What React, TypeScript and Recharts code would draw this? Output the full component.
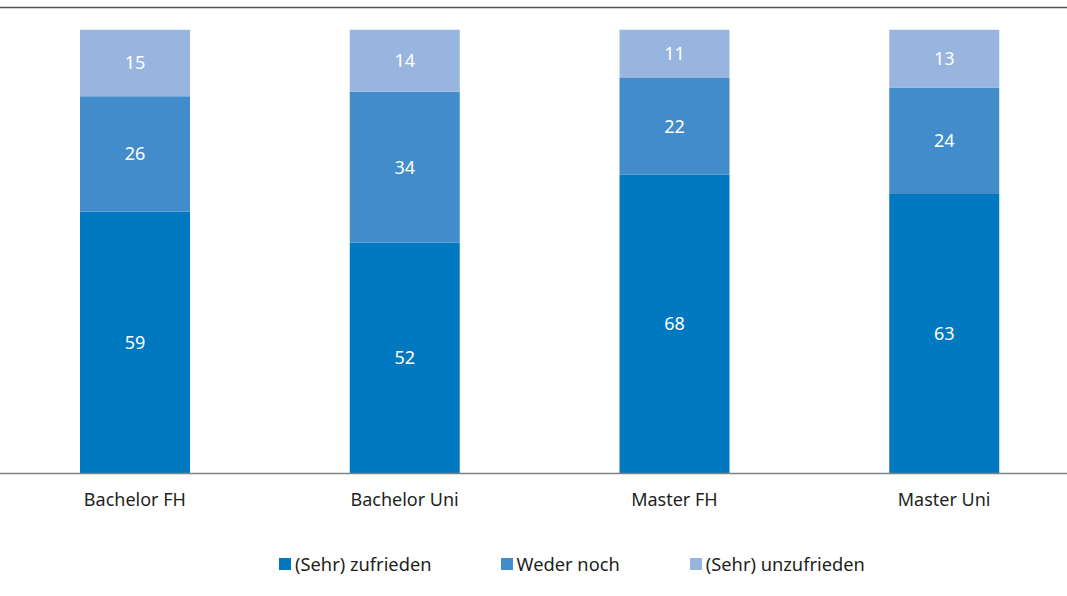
import React from "react";
import { BarChart, Bar, XAxis, YAxis, LabelList, ReferenceLine, Legend } from "recharts";

const categories = ["Bachelor FH", "Bachelor Uni", "Master FH", "Master Uni"];
const zufrieden = [59, 52, 68, 63];
const wederNoch = [26, 34, 22, 24];
const unzufrieden = [15, 14, 11, 13];
const seriesNames = ["(Sehr) zufrieden", "Weder noch", "(Sehr) unzufrieden"];
const colors = ["#0079C1", "#438CCB", "#97B5DF"];

const data = categories.map((c, i) => {
  const total = zufrieden[i] + wederNoch[i] + unzufrieden[i];
  return {
    name: c,
    a: (zufrieden[i] / total) * 100,
    b: (wederNoch[i] / total) * 100,
    c: (unzufrieden[i] / total) * 100,
    aRaw: zufrieden[i],
    bRaw: wederNoch[i],
    cRaw: unzufrieden[i],
  };
});

const FONT = "'Noto Sans', 'Open Sans', sans-serif";

const LegendContent = () => (
  <div style={{ display: "flex", justifyContent: "flex-start", fontFamily: FONT, fontSize: 18.3, color: "#231F20" }}>
    {seriesNames.map((n, i) => (
      <div key={n} style={{ display: "flex", alignItems: "center", marginLeft: i === 0 ? 279 : i === 1 ? 69 : 70 }}>
        <div style={{ width: 12, height: 12, background: colors[i], marginRight: 4 }} />
        <span>{n}</span>
      </div>
    ))}
  </div>
);

export default function App() {
  return (
    <div>
      <style>{`body{margin:0;overflow:hidden;background:#fff}`}</style>
      <BarChart
        width={1080}
        height={596}
        data={data}
        margin={{ top: 7.5, right: 1, bottom: 67.5, left: 0 }}
        barSize={110}
      >
        <XAxis
          dataKey="name"
          axisLine={{ stroke: "#7F8280", strokeWidth: 1.5 }}
          tickLine={false}
          tickMargin={14}
          tick={{ fill: "#231F20", fontSize: 18, fontFamily: FONT }}
        />
        <YAxis hide domain={[0, 105]} type="number" allowDataOverflow />
        <ReferenceLine y={105} stroke="#555555" strokeWidth={1.5} />
        <Legend
          verticalAlign="bottom"
          content={<LegendContent />}
          wrapperStyle={{ top: 551, left: 0, width: 1080 }}
        />
        <Bar dataKey="a" stackId="s" name={seriesNames[0]} fill={colors[0]} isAnimationActive={false}>
          <LabelList dataKey="aRaw" position="center" fill="#ffffff" fontSize={18} fontFamily={FONT} />
        </Bar>
        <Bar dataKey="b" stackId="s" name={seriesNames[1]} fill={colors[1]} isAnimationActive={false}>
          <LabelList dataKey="bRaw" position="center" fill="#ffffff" fontSize={18} fontFamily={FONT} />
        </Bar>
        <Bar dataKey="c" stackId="s" name={seriesNames[2]} fill={colors[2]} isAnimationActive={false}>
          <LabelList dataKey="cRaw" position="center" fill="#ffffff" fontSize={18} fontFamily={FONT} />
        </Bar>
      </BarChart>
    </div>
  );
}
